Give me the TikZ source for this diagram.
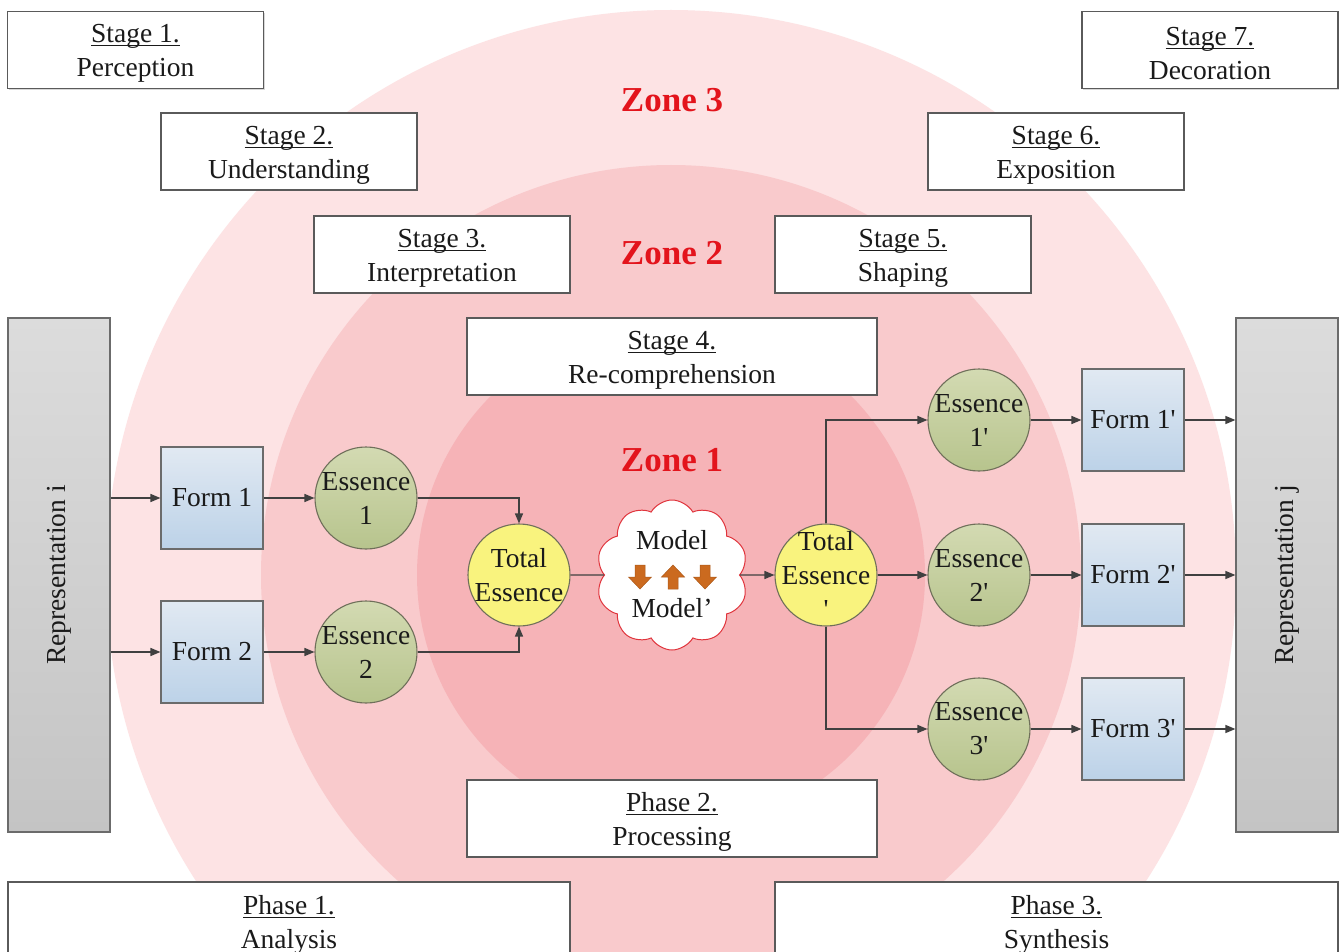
\documentclass[tikz,border=0pt]{standalone}
\usepackage{fontspec}
\setmainfont{Liberation Serif}
\usetikzlibrary{arrows.meta,shapes.symbols,shadows}

\definecolor{zonethree}{HTML}{FDE3E4}
\definecolor{zonetwo}{HTML}{F9CACC}
\definecolor{zoneone}{HTML}{F6B3B7}
\definecolor{zonered}{HTML}{E3141C}
\definecolor{edgegray}{HTML}{5A5A5A}
\definecolor{linkgray}{HTML}{404040}
\definecolor{formtop}{HTML}{E1E9F2}
\definecolor{formbot}{HTML}{BCD2E8}
\definecolor{reptop}{HTML}{DCDCDC}
\definecolor{repbot}{HTML}{C4C4C4}
\definecolor{esstop}{HTML}{D3DAB2}
\definecolor{essbot}{HTML}{B7C48D}
\definecolor{essedge}{HTML}{6F6F5A}
\definecolor{totfill}{HTML}{F9F37E}
\definecolor{arrowbrown}{HTML}{CB6A1F}
\definecolor{cloudred}{HTML}{E0343C}
\definecolor{inktext}{HTML}{1A1A1A}

\newcommand\bodysize{\fontsize{27.5}{34}\selectfont}
\newcommand\zonesize{\fontsize{35}{40}\selectfont\bfseries}
% underlined heading line, with a strut that lowers the two-line block a little
\newcommand\ulhead[1]{\rule{0pt}{25pt}\underline{\raisebox{0pt}[\height][0pt]{#1}\rule[-1.5pt]{0pt}{0pt}}}
\newcommand\pr{\textquotesingle}

\begin{document}
\begin{tikzpicture}[x=1pt,y=-1pt,
  every node/.style={text=inktext},
  boxshadow/.style={drop shadow={shadow xshift=1.4pt,shadow yshift=-1.4pt,opacity=0.3}},
  stagebox/.style={draw=edgegray,line width=1.2pt,fill=white,minimum width=256pt,
    minimum height=77pt,inner sep=0pt,align=center,font=\bodysize,boxshadow},
  widebox/.style={stagebox,minimum width=410pt},
  phasebox/.style={stagebox,minimum height=79pt},
  repbox/.style={draw=edgegray!90,line width=1.2pt,top color=reptop,bottom color=repbot,
    minimum width=102pt,minimum height=514pt,inner sep=0pt,boxshadow},
  replabel/.style={rotate=90,font=\bodysize},
  formbox/.style={draw=edgegray!90,line width=1.1pt,top color=formtop,bottom color=formbot,
    minimum width=102pt,minimum height=102pt,inner sep=0pt,font=\bodysize},
  essbox/.style={circle,draw=essedge,line width=1.1pt,top color=esstop,bottom color=essbot,
    minimum size=102pt,inner sep=-14pt,align=center,font=\bodysize},
  totbox/.style={circle,draw=essedge,line width=1.1pt,fill=totfill,
    minimum size=102pt,inner sep=-14pt,align=center,font=\bodysize},
  zonelabel/.style={text=zonered,font=\zonesize},
  link/.style={draw=linkgray,line width=1.4pt,-{Triangle[length=10pt,width=8pt]}},
  plainlink/.style={draw=linkgray,line width=1.4pt},
  blockarrow/.style={fill=arrowbrown,draw=arrowbrown!85!black,line width=0.5pt,line join=miter}
]
\useasboundingbox (0,0) rectangle (1341,952);
\fill[white] (0,0) rectangle (1341,952);

% nested zones
\fill[zonethree] (671,575) circle[radius=565pt];
\fill[zonetwo] (671,575) circle[radius=410pt];
\fill[zoneone] (671,575) circle[radius=254pt];

\node[zonelabel] (zthree) at (672,100) {Zone 3};
\node[zonelabel] (ztwo) at (672,253) {Zone 2};
\node[zonelabel] (zone) at (672,460) {Zone 1};

% stage and phase boxes
\node[stagebox] (s1) at (135.5,50) {\ulhead{Stage 1.}\\Perception};
\node[stagebox] (s2) at (289,151.5) {\ulhead{Stage 2.}\\Understanding};
\node[stagebox] (s3) at (442,254.5) {\ulhead{Stage 3.}\\Interpretation};
\node[widebox] (s4) at (672,356.5) {\ulhead{Stage 4.}\\Re-comprehension};
\node[stagebox] (s5) at (903,254.5) {\ulhead{Stage 5.}\\Shaping};
\node[stagebox] (s6) at (1056,151.5) {\ulhead{Stage 6.}\\Exposition};
\node[stagebox] (s7) at (1210,50) {\ulhead{Stage 7.}\\Decoration};
\node[widebox] (p2) at (672,818.5) {\ulhead{Phase 2.}\\Processing};
\node[phasebox,minimum width=562pt] (p1) at (289,921.5) {\ulhead{Phase 1.}\\Analysis};
\node[phasebox,minimum width=563pt] (p3) at (1056.5,921.5) {\ulhead{Phase 3.}\\Synthesis};

% representations
\node[repbox] (repi) at (59,575) {};
\node[replabel] (repitext) at (repi.center) {Representation i};
\node[repbox] (repj) at (1287,575) {};
\node[replabel] (repjtext) at (repj.center) {Representation j};

% analysis side
\node[formbox] (f1) at (212,498) {Form 1};
\node[formbox] (f2) at (212,652) {Form 2};
\node[essbox] (e1) at (366,498) {Essence\\1};
\node[essbox] (e2) at (366,652) {Essence\\2};
\node[totbox] (te) at (519,575) {Total\\Essence};

% model cloud
\node[cloud,cloud puffs=10,cloud puff arc=120,aspect=1,draw=cloudred,line width=1pt,
  fill=white,minimum width=152pt,minimum height=150pt,inner sep=0pt] (cl) at (672,575) {};
\node[font=\bodysize] (mtop) at (672,540) {Model};
\node[font=\bodysize] (mbot) at (672,608) {Model’};
\begin{scope}[shift={(640,577)}]
  \path[blockarrow] (-5,-12) -- (5,-12) -- (5,0) -- (11.5,0) -- (0,12) -- (-11.5,0) -- (-5,0) -- cycle;
\end{scope}
\begin{scope}[shift={(673,577)}]
  \path[blockarrow] (-5,12) -- (5,12) -- (5,0) -- (11.5,0) -- (0,-12) -- (-11.5,0) -- (-5,0) -- cycle;
\end{scope}
\begin{scope}[shift={(705,577)}]
  \path[blockarrow] (-5,-12) -- (5,-12) -- (5,0) -- (11.5,0) -- (0,12) -- (-11.5,0) -- (-5,0) -- cycle;
\end{scope}

% synthesis side
\node[totbox] (tep) at (826,575) {Total\\Essence\\\pr};
\node[essbox] (ep1) at (979,420) {Essence\\1\pr};
\node[essbox] (ep2) at (979,575) {Essence\\2\pr};
\node[essbox] (ep3) at (979,729) {Essence\\3\pr};
\node[formbox] (fp1) at (1133,420) {Form 1\pr};
\node[formbox] (fp2) at (1133,575) {Form 2\pr};
\node[formbox] (fp3) at (1133,729) {Form 3\pr};

% connectors
\draw[link] (repi.east |- f1.west) -- (f1.west);
\draw[link] (repi.east |- f2.west) -- (f2.west);
\draw[link] (f1) -- (e1);
\draw[link] (f2) -- (e2);
\draw[link] (e1.east) -| (te.north);
\draw[link] (e2.east) -| (te.south);
\draw[plainlink] (te.east) -- (cl.west);
\draw[link] (cl.east) -- (tep.west);
\draw[link] (tep.north) |- (ep1.west);
\draw[link] (tep) -- (ep2);
\draw[link] (tep.south) |- (ep3.west);
\draw[link] (ep1) -- (fp1);
\draw[link] (ep2) -- (fp2);
\draw[link] (ep3) -- (fp3);
\draw[link] (fp1.east) -- (fp1.east -| repj.west);
\draw[link] (fp2.east) -- (fp2.east -| repj.west);
\draw[link] (fp3.east) -- (fp3.east -| repj.west);
\end{tikzpicture}
\end{document}
